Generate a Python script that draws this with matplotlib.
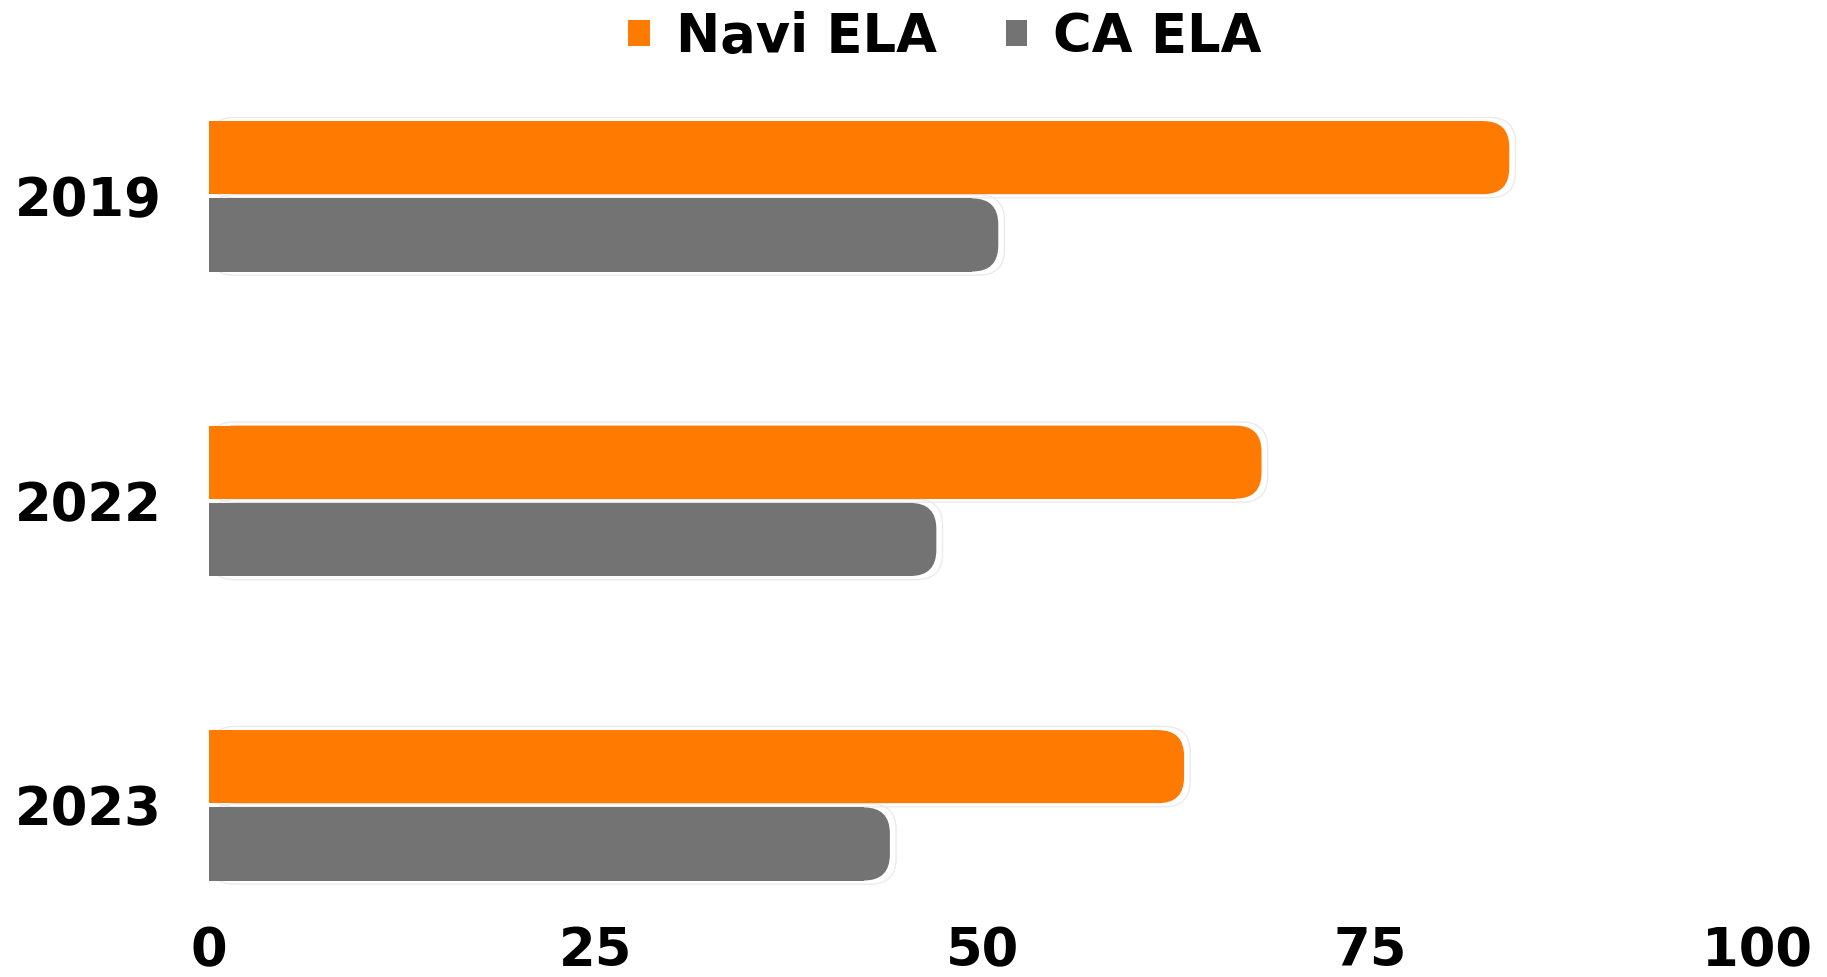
import matplotlib.pyplot as plt
from matplotlib.patches import FancyBboxPatch
import numpy as np

# chart data
years = ["2019", "2022", "2023"]
navi_ela = [84, 68, 63]
ca_ela = [51, 47, 44]
series_names = ["Navi ELA", "CA ELA"]
x_ticks = [0, 25, 50, 75, 100]

orange = "#FF7A00"
grey = "#737373"

plt.rcParams['font.family'] = ['DejaVu Sans']
plt.rcParams['font.weight'] = 'bold'

W, H = 1827, 977
fig = plt.figure(figsize=(W / 100, H / 100), dpi=100)
# axes placed in pixel terms
ax_left, ax_right = 208.6, 1757
ax_top, ax_bottom = 100, 900
ax = fig.add_axes([ax_left / W, 1 - ax_bottom / H,
                   (ax_right - ax_left) / W, (ax_bottom - ax_top) / H])

pitch = 304.5
first_center = 196.3
y_top = (ax_top - first_center) / pitch
y_bot = (ax_bottom - first_center) / pitch
ax.set_xlim(0, 100)
ax.set_ylim(y_bot, y_top)

pos = np.arange(len(years))
bar_h = 0.24
off = 0.127

# rounded right ends
sx = (ax_right - ax_left) / 100
sy = pitch
r_px = 26
r_x = r_px / sx
aspect = sx / sy

for vals, color, sign, name in [(navi_ela, orange, -1, series_names[0]),
                                (ca_ela, grey, 1, series_names[1])]:
    bars = ax.barh(pos + sign * off, vals, height=bar_h, color=color,
                   edgecolor="none", label=name)
    for p in bars.patches:
        x, y, w, h = p.get_x(), p.get_y(), p.get_width(), p.get_height()
        p.set_width(w - r_x)
        ax.add_patch(FancyBboxPatch((x, y), w, h,
                                    boxstyle=f"round,pad=0,rounding_size={r_x}",
                                    mutation_aspect=aspect,
                                    facecolor=color, edgecolor="none"))
        # faint outline like in the original
        ax.add_patch(FancyBboxPatch((x, y - 0.012), w + 0.4, h + 0.024,
                                    boxstyle=f"round,pad=0,rounding_size={r_x}",
                                    mutation_aspect=aspect,
                                    facecolor="none", edgecolor="#ebebeb",
                                    linewidth=1, zorder=0))

ax.set_yticks(pos)
ax.set_yticklabels(years)
ax.set_xticks(x_ticks)
ax.set_xticklabels([str(t) for t in x_ticks])
ax.tick_params(axis="both", length=0, labelsize=38)
ax.tick_params(axis="y", pad=34)
ax.tick_params(axis="x", pad=18)
for s in ax.spines.values():
    s.set_visible(False)

fig.legend(loc="center", bbox_to_anchor=(945 / W, 1 - 37 / H), ncol=2,
           frameon=False, fontsize=38, handlelength=0.4, handleheight=0.4,
           handletextpad=0.5, columnspacing=1.3)

fig.savefig("out.png", dpi=100)
